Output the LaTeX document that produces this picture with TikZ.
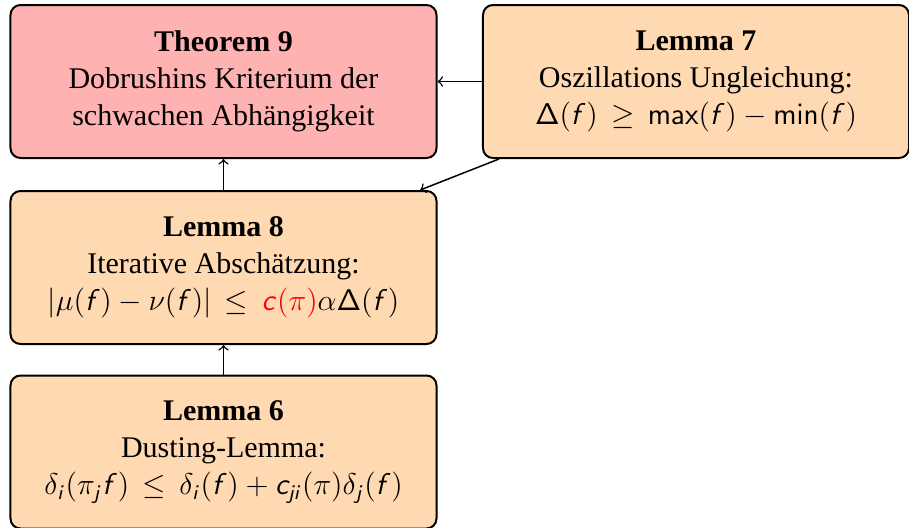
\documentclass[tikz,border=0pt]{standalone}
\usepackage[no-math]{fontspec}
\setmainfont{Liberation Serif}
\usepackage{amsmath}
\DeclareMathAlphabet{\mathsfit}{OT1}{cmss}{m}{sl}
\usetikzlibrary{positioning}

\newcommand{\fv}{\mathsfit{f}}
\newcommand{\Dl}{\mathsf{\Delta}}

\begin{document}
\begin{tikzpicture}[x=0.4pt,y=-0.4pt]
    \tikzset{lemmabox/.style={draw, thick, rounded corners=4pt, fill=orange!30,
        minimum width=170.4pt, minimum height=61.2pt, inner sep=0pt,
        align=center, font=\fontsize{12}{14.8}\selectfont}}
    \useasboundingbox (0,0) rectangle (909,528);
    \node[lemmabox, fill=red!30] (th9) at (223.5,81.5)
        {\textbf{Theorem 9}\\Dobrushins Kriterium der\\schwachen Abhängigkeit};
    \node[lemmabox] (l7) at (696,81.5)
        {\textbf{Lemma 7}\\Oszillations Ungleichung:\\
         $\Dl(\fv)\,\geq\,\mathsf{max}(\fv)-\mathsf{min}(\fv)$};
    \node[lemmabox] (l8) at (223.5,267.5)
        {\textbf{Lemma 8}\\Iterative Abschätzung:\\
         $|\mu(\fv)-\nu(\fv)|\,\leq\,{\color{red}\mathsfit{c}(\pi)}\alpha\Dl(\fv)$};
    \node[lemmabox] (l6) at (223.5,452)
        {\textbf{Lemma 6}\\Dusting-Lemma:\\
         $\delta_{\mathsfit{i}}(\pi_{\mathsfit{j}}\fv)\,\leq\,\delta_{\mathsfit{i}}(\fv)
          +\mathsfit{c}_{\mathsfit{ji}}(\pi)\delta_{\mathsfit{j}}(\fv)$};
    \draw[->, semithick] (l7) -- (th9);
    \draw[->, semithick] (l7) -- (l8);
    \draw[->, semithick] (l8) -- (th9);
    \draw[->, semithick] (l6) -- (l8);
\end{tikzpicture}
\end{document}
